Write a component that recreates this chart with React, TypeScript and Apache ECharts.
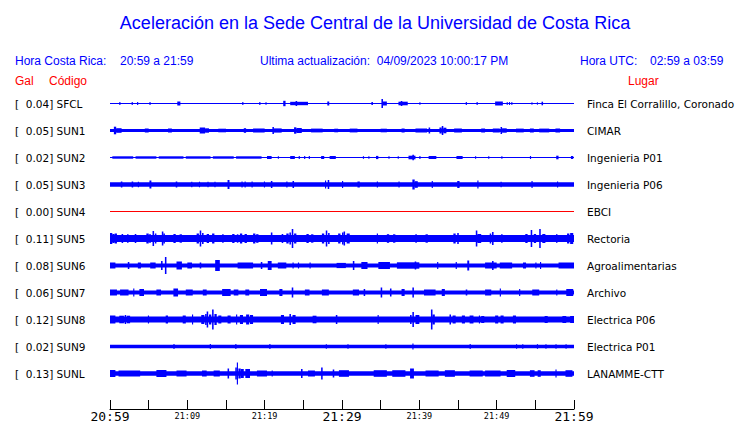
import React, { useEffect, useRef } from 'react';
import * as echarts from 'echarts';

const TITLE = 'Aceleración en la Sede Central de la Universidad de Costa Rica';
const LOCAL_LABEL = 'Hora Costa Rica:';
const LOCAL_RANGE = '20:59 a 21:59';
const UPDATED_LABEL = 'Ultima actualización:';
const UPDATED = '04/09/2023 10:00:17 PM';
const UTC_LABEL = 'Hora UTC:';
const UTC_RANGE = '02:59 a 03:59';

const CODES = ['SFCL', 'SUN1', 'SUN2', 'SUN3', 'SUN4', 'SUN5', 'SUN6', 'SUN7', 'SUN8', 'SUN9', 'SUNL'];
const GAL = [0.04, 0.05, 0.02, 0.05, 0.0, 0.11, 0.08, 0.06, 0.12, 0.02, 0.13];
const PLACES = [
  'Finca El Corralillo, Coronado', 'CIMAR', 'Ingenieria P01', 'Ingenieria P06', 'EBCI', 'Rectoria',
  'Agroalimentarias', 'Archivo', 'Electrica P06', 'Electrica P01', 'LANAMME-CTT',
];
const TICK_LABELS = ['20:59', '', '21:09', '', '21:19', '', '21:29', '', '21:39', '', '21:49', '', '21:59'];
const MAJOR_TICKS = ['20:59', '21:29', '21:59'];

// envelope half-amplitudes (27 units = one row spacing)
const BASE = [0.5, 1.4, 0.6, 2.2, 0.5, 3.4, 2, 2, 3, 1.7, 2.2];

// bursts: [start minute, end minute, half amplitude]
const BURSTS_SFCL = [[1.2,1.35,1.5],[2.8,2.95,1.5],[3.5,3.65,1.5],[5.1,5.25,1.5],[8.7,9.1,2],[17.1,17.25,1.5],[19.3,19.45,1.5],[20.1,20.25,1.2],[22.4,22.7,2.7],[23.3,25.6,1.7],[24.0,24.2,2.5],[28.1,28.35,2],[33.8,34.0,1.5],[35.1,35.3,4.5],[35.3,35.8,2],[37.3,38.5,1.8],[37.6,37.8,2.5],[40,40.15,1.2],[46,46.15,1.5],[47.4,47.55,1.5],[49.8,50.8,2],[51.3,51.4,1.5],[51.6,51.7,1.5],[51.9,52,1.5],[54.5,54.6,1.2],[55.2,55.3,1.2],[55.8,56,1.8]];
const BURSTS_SUN1 = [[0.5,0.8,3.8],[0.8,1.5,2.3],[4.5,5.0,2],[7.5,8.0,2],[11.6,12.3,3],[12.3,12.8,2.2],[14,15,1.8],[17.3,17.6,2.3],[18.5,20,1.9],[21.0,21.2,3.5],[21.2,22.2,2.1],[23.8,24.1,3.2],[24.1,24.8,2.5],[26,27.5,1.9],[29,29.5,1.8],[31,32,1.9],[35,35.8,1.8],[37.7,38.1,2],[39.5,41,2],[41.2,41.4,3],[42.6,42.9,3],[42.9,43.1,4.5],[43.1,43.5,2.8],[44.5,45.5,2],[48,48.5,2],[49.5,50.4,2],[50.5,50.7,3.5],[50.7,51.3,2.2],[52.5,53.5,1.9],[54.3,54.8,2],[55.5,56.8,1.9],[57.6,58.2,2]];
const BURSTS_SUN2 = [[0.3,3,1.2],[3.3,6,1.2],[6.3,9.5,1.2],[9.8,13,1.2],[13.3,16,1.2],[16.3,19.6,1.2],[20.3,20.9,1.5],[21.7,21.85,1.3],[23.3,23.9,1.5],[24.4,24.55,1.5],[25.1,25.25,1.5],[25.7,25.85,1.5],[27.3,27.7,1.5],[28.4,29.2,1.5],[32.7,32.85,1.3],[33.4,33.55,1.3],[34.4,34.7,1.6],[36,36.15,1.3],[37.2,37.35,1.3],[38.6,39.5,1.8],[39.1,39.3,2.7],[40,40.15,1.4],[41.2,42.2,1.5],[44.8,45.6,1.5],[47.2,47.35,1.3],[48.9,49.05,1.3],[50.6,50.75,1.3],[54.3,54.45,1.5],[57.7,58,1.8],[59.6,59.9,1.5]];
const BURSTS_SUN3 = [[1.4,1.6,3],[2.8,3.0,3],[3.6,3.75,2.8],[5.1,5.35,4],[8.5,8.7,3],[10.5,10.65,2.8],[11.5,11.65,2.8],[12.6,12.75,2.8],[13.5,13.65,2.8],[15.2,15.45,4.5],[17,17.15,3],[17.4,17.55,3],[18.3,18.45,3],[19.9,20.05,3],[20.8,21.0,3.5],[22.8,22.95,3],[23.6,23.8,3.5],[27.8,27.95,4],[28.15,28.35,4.5],[30.0,30.15,3.5],[32,32.3,3],[34.5,34.65,3],[37.3,37.45,3],[39.1,39.4,5],[39.4,39.8,3.3],[41.6,41.75,3.5],[44.9,45.2,3.5],[47.5,47.65,4],[50.5,50.65,2.8],[54.5,54.65,3.5],[57.8,57.95,3]];
const BURSTS_SUN4: number[][] = [];
const BURSTS_SUN5 = [[0,0.3,5.5],[0.3,0.6,4.5],[0.6,0.9,5],[1.5,1.7,4.5],[2.2,2.4,4.2],[3.2,3.4,4.5],[4.7,5.0,5],[5.0,5.3,4.2],[5.5,5.7,7.5],[5.8,6.0,5],[6.7,6.9,7],[6.9,7.1,5],[8.2,8.5,4.5],[9.0,9.3,4.2],[11.2,11.5,5],[11.6,11.8,8],[11.9,12.1,5.5],[12.5,12.8,4.5],[13.2,13.5,5],[14.5,14.7,4.2],[15.8,16.1,4.5],[16.4,16.6,4.2],[16.8,17.1,5],[17.4,17.7,4.5],[18.5,18.8,5],[18.9,19.2,4.3],[20.8,21,6],[22.2,22.4,4.5],[22.8,23.1,5],[23.2,23.4,6],[23.5,23.7,9.5],[23.8,24.1,5],[25.4,25.7,4.5],[26.0,26.3,4.2],[27.4,27.7,5],[27.9,28.1,8],[28.2,28.4,5.5],[29.5,29.8,5],[30.0,30.2,6],[30.2,30.4,7],[30.6,31,5],[34.5,34.65,5],[35.8,36.1,4.3],[36.6,36.9,4.2],[39.5,39.65,4.5],[40.8,41.1,4.2],[44.4,44.7,5],[44.9,45.1,5.5],[47.3,47.5,8],[47.5,48,4.5],[49.1,49.3,5],[49.4,49.6,6.5],[50.6,50.75,4.5],[53.7,54,4.5],[54.4,54.6,8.5],[54.8,55.1,4.5],[55.5,55.7,9.5],[55.9,56.3,4.5],[57.7,57.85,4.5],[59.1,59.4,5],[59.5,59.9,5.5]];
const BURSTS_SUN6 = [[0,0.7,3],[2.3,2.5,3.5],[3.6,4,3],[5.2,5.9,3],[6.6,6.8,4.5],[7.1,7.3,8.5],[8.6,9.3,4],[10,10.6,3],[11.6,11.8,3],[13.6,14.2,5.5],[16.5,18.5,3],[19.5,19.7,3.5],[20.4,20.9,4.5],[21.7,22.8,3],[23.6,23.75,3],[24.3,24.45,3],[25.8,25.95,3],[29.3,30.5,2.6],[31.4,31.6,4.5],[32.5,33.3,3.5],[34.7,36.2,3.5],[37.1,40,3.2],[39.4,39.6,4],[42.3,42.45,3.5],[44.7,44.85,3.5],[46.2,46.45,5],[48.5,50,3],[49.4,49.6,4.5],[50.4,52,3],[53.4,53.8,3],[55,55.15,3],[55.6,55.75,3.5],[58,60,3]];
const BURSTS_SUN7 = [[0,0.9,3],[1.3,2.4,3],[3,3.15,4],[3.8,4.4,3.5],[6,6.6,3],[8.2,8.8,4],[9.8,10.7,3],[12,12.5,3],[14.5,15.6,3.5],[16,16.6,3],[17.5,18,3],[19.4,20.3,3.5],[21.9,22.3,3.5],[23.5,23.7,5],[25.2,25.8,3],[27.4,28.3,3],[31.4,32.2,3],[32.8,33,3.5],[35,35.2,5],[36.2,36.4,4],[37.7,38.1,3.5],[39.1,39.3,5],[40.6,42.1,3],[42.9,43.3,3.5],[46,46.2,3],[48.5,49.3,3],[50.4,50.55,4],[52.9,53.05,3.5],[54.6,55.5,3],[57.7,57.85,3],[59,59.9,3.5]];
const BURSTS_SUN8 = [[0,0.7,4],[1.2,1.8,3.8],[1.9,2.1,4.5],[2.2,2.6,3.8],[4.9,5.05,4],[7.2,7.5,4],[9.4,9.8,4],[10.6,10.75,5],[11.8,12.2,4.5],[12.3,12.5,5.5],[12.5,12.7,8],[12.8,13.1,5],[13.2,13.4,10],[13.5,13.8,5.5],[14,14.4,4],[15.2,15.6,4],[16.3,16.45,5],[16.8,17.2,4.5],[17.6,18.0,5],[18.1,18.5,4.5],[22.1,22.5,4.5],[23.2,23.4,5.5],[23.6,24,4.5],[26.2,26.7,3.8],[29.2,29.4,4.5],[34.6,34.75,4.5],[38.8,39.0,4.5],[39.1,39.3,7.5],[39.5,40.0,4.5],[41.5,41.7,10],[41.7,42.0,5],[43.9,44.1,5],[44.3,44.7,4],[45.5,45.9,4],[46.5,47,4],[47.7,47.85,4],[48,48.4,3.5],[49.8,50.2,4],[50.5,50.9,4],[52.1,52.5,4],[56.2,56.6,3.5],[58.5,59,3.5],[59.5,60,3.5]];
const BURSTS_SUN9 = [[8.2,8.35,2.5],[12.9,13.05,2.5],[16.2,16.35,2.5],[20.6,20.75,2.5],[27.9,28.05,2.3],[30.7,30.85,2.3],[35.6,35.75,2.3],[39.1,39.25,3],[46.5,46.65,2.5],[52.5,52.65,2.3],[53.3,53.45,2.3],[55.2,55.35,2.3],[56.3,56.45,2.3],[57.6,57.75,2.3],[58.9,59.05,2.3]];
const BURSTS_SUNL = [[0,0.7,3.5],[1.1,3.9,3],[6,7.3,3.5],[8.6,9.9,3],[11.9,12.5,3],[13.4,14.2,3],[15.2,15.4,5],[16.2,16.4,6],[16.4,16.55,11],[16.6,16.9,5],[16.9,17.3,4.5],[17.5,18.1,4.5],[19,20.3,3],[20.9,21.05,3],[24.7,24.9,4.5],[25.6,26.5,3],[27.3,27.5,6],[28.8,29,4],[29.6,30.9,3.3],[34.1,35.8,3.3],[36.5,38.2,3.3],[38.8,39.3,5],[40.8,42.5,3],[43.3,44.6,3.3],[46.5,48.2,3],[48.5,50.5,3],[51.3,52.4,3.5],[54.3,54.9,3.3],[55.3,55.7,3.3],[57.6,57.75,4],[58.9,59.8,3.3]];

const BURSTS = [BURSTS_SFCL, BURSTS_SUN1, BURSTS_SUN2, BURSTS_SUN3, BURSTS_SUN4, BURSTS_SUN5, BURSTS_SUN6, BURSTS_SUN7, BURSTS_SUN8, BURSTS_SUN9, BURSTS_SUNL];
const TRACE_COLORS = ['#0000ff', '#0000ff', '#0000ff', '#0000ff', '#ff0000', '#0000ff', '#0000ff', '#0000ff', '#0000ff', '#0000ff', '#0000ff'];

const ROW_UNITS = 27;
const BLUE = '#0000ff';
const RED = '#ff0000';
const HEAD_FONT = '"Liberation Sans", Arial, sans-serif';
const LABEL_FONT = '"DejaVu Sans", sans-serif';

function txt(text: string, x: number, y: number, color: string, size: number, align = 'left') {
  return {
    type: 'text',
    x,
    y,
    silent: true,
    style: {
      text,
      fill: color,
      fontSize: size,
      fontFamily: HEAD_FONT,
      align,
      verticalAlign: 'middle',
      textAlign: align,
      textVerticalAlign: 'middle',
    },
  };
}

export default function App() {
  const ref = useRef<HTMLDivElement>(null);
  useEffect(() => {
    if (!ref.current) return;
    const chart = echarts.init(ref.current, undefined, { renderer: 'svg' });
    const series = CODES.map((code, row) => {
      const color = TRACE_COLORS[row];
      return {
        type: 'custom',
        name: code,
        xAxisIndex: 0,
        yAxisIndex: 0,
        silent: true,
        clip: false,
        encode: { x: [1, 2], y: 0 },
        data: [[row, 0, 60, BASE[row]], ...BURSTS[row].map((b) => [row, b[0], b[1], b[2]])],
        renderItem: (params: any, api: any) => {
          const r = api.value(0);
          const t0 = api.value(1);
          const t1 = api.value(2);
          const a = api.value(3) / ROW_UNITS;
          const p0 = api.coord([t0, r - a]);
          const p1 = api.coord([t1, r + a]);
          return {
            type: 'rect',
            shape: {
              x: p0[0],
              y: Math.min(p0[1], p1[1]),
              width: Math.max(p1[0] - p0[0], 1),
              height: Math.abs(p1[1] - p0[1]),
            },
            style: { fill: color },
          };
        },
      };
    });

    chart.setOption({
      animation: false,
      backgroundColor: '#ffffff',
      grid: { left: 110, right: 166, top: 90, bottom: 36, containLabel: false },
      xAxis: {
        type: 'value',
        min: 0,
        max: 60,
        interval: 5,
        offset: 22,
        axisLine: { show: true, onZero: false, lineStyle: { color: '#000', width: 1 } },
        axisTick: { show: true, inside: true, length: 9, lineStyle: { color: '#000', width: 1 } },
        splitLine: { show: false },
        axisLabel: {
          margin: 7,
          verticalAlign: 'middle',
          showMinLabel: true,
          showMaxLabel: true,
          color: '#000',
          formatter: (v: number) => {
            const lab = TICK_LABELS[Math.round(v / 5)] || '';
            if (!lab) return '';
            return MAJOR_TICKS.includes(lab) ? `{big|${lab}}` : `{small|${lab}}`;
          },
          rich: {
            big: { fontSize: 13, fontFamily: '"DejaVu Sans Mono", monospace', color: '#000', verticalAlign: 'middle' },
            small: { fontSize: 8.5, fontFamily: '"DejaVu Sans Mono", monospace', color: '#000', verticalAlign: 'middle' },
          },
        },
      },
      yAxis: [
        { type: 'value', min: -0.5, max: 10.5, inverse: true, show: false },
        {
          type: 'category',
          data: CODES,
          inverse: true,
          position: 'left',
          axisLine: { show: false },
          axisTick: { show: false },
          splitLine: { show: false },
          axisLabel: {
            interval: 0,
            align: 'left',
            margin: 95,
            fontFamily: LABEL_FONT,
            fontSize: 10.5,
            color: '#000',
            formatter: (v: string, i: number) => `[\u00a0\u00a0${GAL[i].toFixed(2)}] ${v}`,
          },
        },
        {
          type: 'category',
          data: PLACES,
          inverse: true,
          position: 'right',
          axisLine: { show: false },
          axisTick: { show: false },
          splitLine: { show: false },
          axisLabel: {
            interval: 0,
            align: 'left',
            margin: 13,
            fontFamily: LABEL_FONT,
            fontSize: 10.5,
            color: '#000',
          },
        },
      ],
      graphic: [
        txt(TITLE, 375, 23, BLUE, 18, 'center'),
        txt(LOCAL_LABEL, 15, 61, BLUE, 12),
        txt(LOCAL_RANGE, 120, 61, BLUE, 12),
        txt(`${UPDATED_LABEL}\u00a0\u00a0${UPDATED}`, 260, 61, BLUE, 12),
        txt(UTC_LABEL, 580, 61, BLUE, 12),
        txt(UTC_RANGE, 650, 61, BLUE, 12),
        txt('Gal', 15, 81, RED, 12),
        txt('Código', 49, 81, RED, 12),
        txt('Lugar', 628, 81, RED, 12),
      ],
      series,
    });
    return () => chart.dispose();
  }, []);
  return <div ref={ref} style={{ position: 'fixed', left: 0, top: 0, width: 740, height: 423, background: '#fff' }} />;
}
